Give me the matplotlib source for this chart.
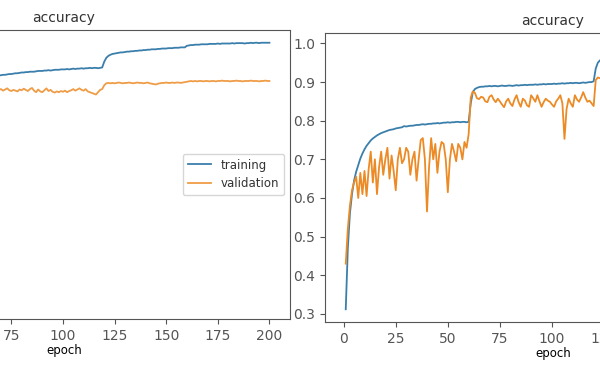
import matplotlib
matplotlib.use("Agg", force=True)

import numpy as np
import matplotlib.pyplot as plt

# left panel: only epochs 68..200 are inside the visible crop
left_start = 68
left_train = [
    0.908, 0.909, 0.910, 0.911, 0.911, 0.912, 0.913, 0.913, 0.914, 0.915, 0.915, 0.916,
    0.917, 0.917, 0.918, 0.918, 0.919, 0.919, 0.919, 0.920, 0.921, 0.921,
    0.921, 0.922, 0.922, 0.923, 0.922, 0.923, 0.924, 0.924, 0.924, 0.925,
    0.925, 0.925, 0.926, 0.925, 0.926, 0.927, 0.926, 0.927, 0.927, 0.928,
    0.927, 0.928, 0.928, 0.929, 0.928, 0.929, 0.929, 0.928, 0.929, 0.930,
    0.945, 0.955, 0.960, 0.963, 0.965, 0.966, 0.967, 0.968, 0.969, 0.969,
    0.970, 0.971, 0.971, 0.972, 0.972, 0.973, 0.973, 0.974, 0.974, 0.975,
    0.975, 0.976, 0.976, 0.977, 0.977, 0.977, 0.978, 0.978, 0.979, 0.979,
    0.979, 0.980, 0.980, 0.980, 0.981, 0.981, 0.981, 0.982, 0.982, 0.982,
    0.986, 0.987, 0.988, 0.988, 0.989, 0.989, 0.989, 0.990, 0.990, 0.990,
    0.990, 0.991, 0.991, 0.991, 0.991, 0.992, 0.991, 0.992, 0.992, 0.992,
    0.992, 0.992, 0.993, 0.992, 0.993, 0.993, 0.993, 0.993, 0.992, 0.993,
    0.993, 0.994, 0.993, 0.994, 0.994, 0.993, 0.994, 0.994, 0.994, 0.994, 0.994,
]
left_val = [
    0.874, 0.872, 0.874, 0.870, 0.873, 0.876, 0.871, 0.869, 0.872, 0.870, 0.868, 0.873,
    0.871, 0.875, 0.872, 0.869, 0.874, 0.877, 0.870, 0.866, 0.873, 0.868,
    0.866, 0.871, 0.876, 0.869, 0.872, 0.867, 0.865, 0.868, 0.866, 0.869,
    0.867, 0.870, 0.866, 0.869, 0.871, 0.874, 0.870, 0.873, 0.876, 0.872,
    0.870, 0.874, 0.868, 0.866, 0.864, 0.862, 0.860, 0.866, 0.872, 0.874,
    0.884, 0.889, 0.890, 0.889, 0.890, 0.889, 0.890, 0.891, 0.890, 0.889,
    0.890, 0.890, 0.891, 0.890, 0.889, 0.890, 0.891, 0.890, 0.890, 0.889,
    0.890, 0.891, 0.889, 0.888, 0.887, 0.886, 0.888, 0.889, 0.890, 0.890,
    0.891, 0.890, 0.890, 0.891, 0.890, 0.891, 0.891, 0.890, 0.891, 0.892,
    0.893, 0.894, 0.895, 0.894, 0.895, 0.894, 0.895, 0.895, 0.894, 0.895,
    0.895, 0.894, 0.895, 0.895, 0.894, 0.895, 0.895, 0.896, 0.895, 0.895,
    0.895, 0.894, 0.895, 0.895, 0.896, 0.895, 0.895, 0.894, 0.895, 0.895,
    0.895, 0.896, 0.895, 0.895, 0.895, 0.894, 0.895, 0.895, 0.896, 0.895, 0.895,
]

# right panel: epochs 1..124 are visible
right_start = 1
right_train = [
    0.312, 0.470, 0.560, 0.610, 0.645, 0.668, 0.685, 0.702, 0.715, 0.726,
    0.735, 0.742, 0.749, 0.754, 0.758, 0.762, 0.765, 0.768, 0.770, 0.772,
    0.774, 0.776, 0.777, 0.778, 0.780, 0.781, 0.782, 0.783, 0.786, 0.785,
    0.786, 0.787, 0.787, 0.788, 0.789, 0.789, 0.790, 0.791, 0.790, 0.791,
    0.792, 0.792, 0.793, 0.793, 0.794, 0.793, 0.794, 0.795, 0.795, 0.796,
    0.795, 0.796, 0.796, 0.797, 0.797, 0.796, 0.797, 0.797, 0.796, 0.797,
    0.845, 0.874, 0.882, 0.885, 0.887, 0.888, 0.888, 0.889, 0.889, 0.890,
    0.889, 0.890, 0.890, 0.889, 0.890, 0.891, 0.890, 0.890, 0.891, 0.891,
    0.890, 0.891, 0.892, 0.891, 0.892, 0.892, 0.893, 0.892, 0.893, 0.893,
    0.893, 0.894, 0.893, 0.894, 0.894, 0.895, 0.894, 0.895, 0.895, 0.895,
    0.896, 0.895, 0.896, 0.896, 0.897, 0.896, 0.897, 0.897, 0.898, 0.897,
    0.898, 0.898, 0.897, 0.898, 0.899, 0.898, 0.899, 0.900, 0.900, 0.902,
    0.935, 0.950, 0.956, 0.960,
]
right_val = [
    0.430, 0.520, 0.580, 0.620, 0.640, 0.655, 0.600, 0.665, 0.610, 0.670,
    0.605, 0.675, 0.720, 0.640, 0.700, 0.610, 0.680, 0.720, 0.660, 0.700,
    0.730, 0.650, 0.710, 0.670, 0.620, 0.700, 0.730, 0.690, 0.700, 0.730,
    0.720, 0.660, 0.700, 0.720, 0.645, 0.700, 0.750, 0.755, 0.700, 0.565,
    0.680, 0.755, 0.700, 0.740, 0.665, 0.720, 0.745, 0.740, 0.700, 0.615,
    0.700, 0.740, 0.720, 0.695, 0.740, 0.730, 0.700, 0.745, 0.730, 0.765,
    0.860, 0.876, 0.872, 0.858, 0.856, 0.862, 0.860, 0.850, 0.848, 0.862,
    0.866, 0.855, 0.848, 0.857, 0.850, 0.842, 0.835, 0.850, 0.857, 0.845,
    0.838, 0.855, 0.866, 0.848, 0.836, 0.857, 0.852, 0.840, 0.836, 0.866,
    0.858, 0.849, 0.866, 0.850, 0.836, 0.848, 0.857, 0.852, 0.849, 0.842,
    0.836, 0.850, 0.857, 0.866, 0.845, 0.753, 0.830, 0.857, 0.845, 0.836,
    0.866, 0.855, 0.849, 0.860, 0.874, 0.860, 0.849, 0.852, 0.845, 0.838,
    0.905, 0.912, 0.910, 0.912,
]

x_ticks = [0, 25, 50, 75, 100, 125, 150, 175, 200]
y_ticks = [0.3, 0.4, 0.5, 0.6, 0.7, 0.8, 0.9, 1.0]

c_train = '#3a7fab'
c_val = '#ec8b26'

plt.rcParams['text.color'] = '#333333'
plt.rcParams['xtick.labelcolor'] = '#333333'
plt.rcParams['ytick.labelcolor'] = '#333333'

fig = plt.figure(figsize=(6.0, 3.73), dpi=100)

# the screenshot crops both panels, so the axes run past the canvas edges
ax1 = fig.add_axes([-0.27, 0.1448, 0.7533, 0.7748])
ax2 = fig.add_axes([0.5417, 0.1367, 0.76, 0.7748])

ep_left = np.arange(left_start, left_start + len(left_train))
ax1.plot(ep_left, left_train, color=c_train, lw=1.3, label='training')
ax1.plot(ep_left, left_val, color=c_val, lw=1.3, alpha=0.85, label='validation')
ax1.legend(loc='center right', fontsize=8.5)

ep_right = np.arange(right_start, right_start + len(right_train))
ax2.plot(ep_right, right_train, color=c_train, lw=1.3, label='training')
ax2.plot(ep_right, right_val, color=c_val, lw=1.3, label='validation')

for ax in (ax1, ax2):
    ax.set_title('accuracy', fontsize=10)
    ax.set_xlabel('epoch', fontsize=8.5, labelpad=1)
    ax.set_xlim(-8.95, 209.95)
    ax.set_ylim(0.279, 1.027)
    ax.set_xticks(x_ticks)
    ax.set_yticks(y_ticks)
    for s in ax.spines.values():
        s.set_color('#555555')
    ax.tick_params(colors='#555555')

fig.savefig('out.png', dpi=100)
plt.close(fig)
